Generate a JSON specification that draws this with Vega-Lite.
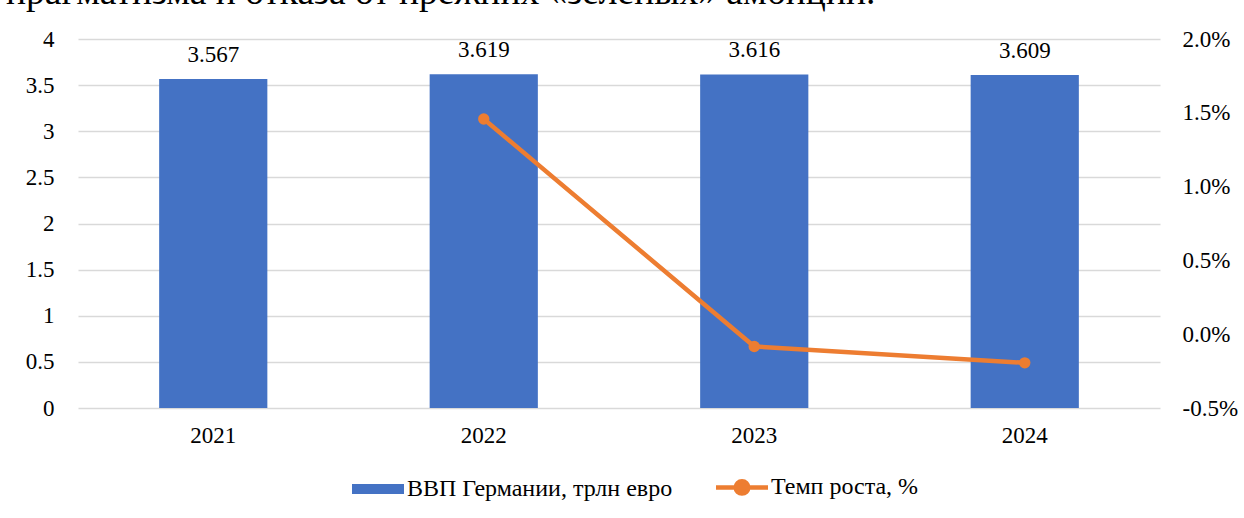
{
  "$schema": "https://vega.github.io/schema/vega-lite/v6.json",
  "width": 1082,
  "height": 369,
  "autosize": {"type": "none"},
  "padding": {"left": 78, "top": 39, "right": 84, "bottom": 110},
  "background": "white",
  "title": {
    "text": "прагматизма и отказа от прежних «зеленых» амбиций.",
    "anchor": "start",
    "frame": "group",
    "dx": -72,
    "dy": 13,
    "offset": 0,
    "font": "Liberation Serif",
    "fontSize": 37.5,
    "fontWeight": "normal",
    "color": "black",
    "baseline": "alphabetic"
  },
  "config": {
    "view": {"stroke": null},
    "font": "Liberation Serif",
    "axis": {
      "labelFont": "Liberation Serif",
      "labelFontSize": 23,
      "labelColor": "black"
    }
  },
  "data": {
    "values": [
      {"year": "2021", "gdp": 3.567, "growth": null},
      {"year": "2022", "gdp": 3.619, "growth": 0.01458},
      {"year": "2023", "gdp": 3.616, "growth": -0.00083},
      {"year": "2024", "gdp": 3.609, "growth": -0.00194}
    ]
  },
  "encoding": {
    "x": {
      "field": "year",
      "type": "ordinal",
      "scale": {"paddingInner": 0.6, "paddingOuter": 0.3},
      "axis": {
        "title": null,
        "labelAngle": 0,
        "domain": false,
        "ticks": false,
        "labelPadding": 16,
        "grid": false
      }
    }
  },
  "layer": [
    {
      "layer": [
        {
          "mark": {"type": "bar", "color": "#4472C4"},
          "encoding": {
            "y": {
              "field": "gdp",
              "type": "quantitative",
              "scale": {"domain": [0, 4], "nice": false},
              "axis": {
                "title": null,
                "values": [0, 0.5, 1, 1.5, 2, 2.5, 3, 3.5, 4],
                "format": "~g",
                "domain": false,
                "ticks": false,
                "labelPadding": 24,
                "grid": true,
                "gridColor": "#d9d9d9",
                "gridWidth": 1.5
              }
            },
            "color": {
              "datum": "ВВП Германии, трлн евро",
              "type": "nominal",
              "scale": {
                "domain": ["ВВП Германии, трлн евро", "Темп роста, %"],
                "range": ["#4472C4", "#ED7D31"]
              },
              "legend": {
                "orient": "none",
                "legendX": 288,
                "legendY": 436,
                "direction": "horizontal",
                "title": null,
                "symbolSize": 2704,
                "labelFont": "Liberation Serif",
                "labelFontSize": 24,
                "labelColor": "black",
                "labelOffset": 17,
                "columnPadding": 34,
                "labelLimit": 400,
                "encode": {
                  "symbols": {
                    "update": {
                      "shape": {"signal": "datum.value === 'Темп роста, %' ? 'M-1,0H1M-0.24,0A0.24,0.24,0,1,1,0.24,0A0.24,0.24,0,1,1,-0.24,0Z' : 'M-1,-0.19H1V0.19H-1Z'"},
                      "size": {"value": 2704},
                      "fill": {"signal": "datum.value === 'Темп роста, %' ? '#ED7D31' : '#4472C4'"},
                      "stroke": {"signal": "datum.value === 'Темп роста, %' ? '#ED7D31' : '#4472C4'"},
                      "strokeWidth": {"signal": "datum.value === 'Темп роста, %' ? 4.5 : 0"},
                      "opacity": {"value": 1},
                      "fillOpacity": {"value": 1},
                      "strokeOpacity": {"value": 1}
                    }
                  }
                }
              }
            }
          }
        },
        {
          "mark": {"type": "text", "baseline": "alphabetic", "dy": -17, "fontSize": 23, "font": "Liberation Serif", "color": "black"},
          "encoding": {
            "y": {"field": "gdp", "type": "quantitative"},
            "text": {"field": "gdp", "type": "quantitative", "format": ".3f"}
          }
        }
      ]
    },
    {
      "transform": [{"filter": "datum.growth !== null"}],
      "mark": {"type": "line", "strokeWidth": 4.5, "point": {"filled": true, "size": 130, "color": "#ED7D31"}, "color": "#ED7D31"},
      "encoding": {
        "y": {
          "field": "growth",
          "type": "quantitative",
          "scale": {"domain": [-0.005, 0.02], "nice": false},
          "axis": {
            "orient": "right",
            "title": null,
            "values": [-0.005, 0, 0.005, 0.01, 0.015, 0.02],
            "labelExpr": "replace(format(datum.value, '.1%'), '\u2212', '-')",
            "domain": false,
            "ticks": false,
            "grid": false,
            "labelPadding": 22
          }
        },
        "color": {"datum": "Темп роста, %", "type": "nominal"}
      }
    }
  ],
  "resolve": {"scale": {"y": "independent"}}
}
